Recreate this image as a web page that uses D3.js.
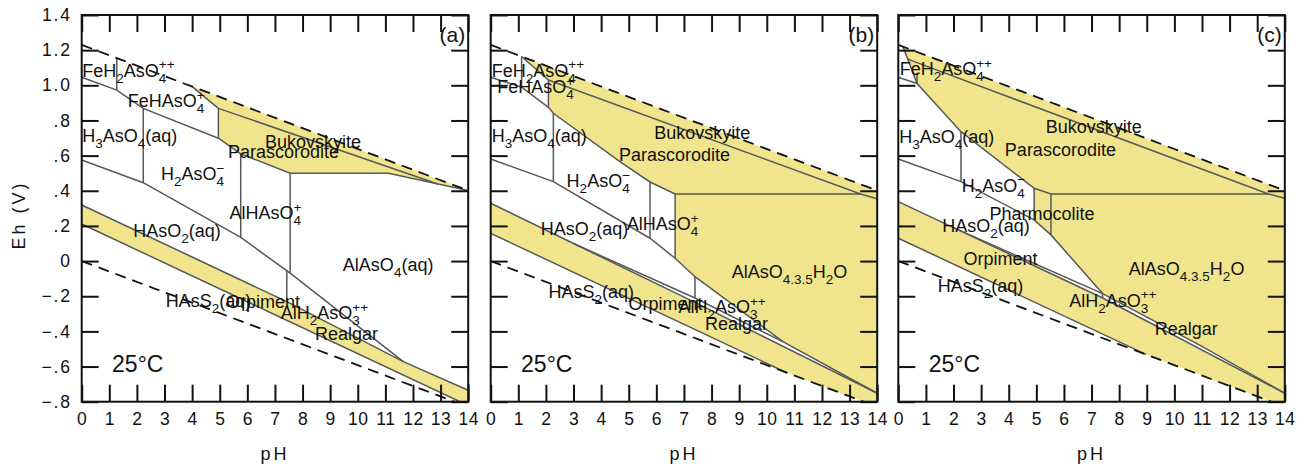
<!DOCTYPE html>
<html>
<head>
<meta charset="utf-8">
<script src="https://cdn.jsdelivr.net/npm/d3@7"></script>
<style>
  body { margin: 0; background: #fff; }
  text { font-family: "Liberation Sans", Arial, Helvetica, sans-serif; fill: #111; }
</style>
</head>
<body>
<svg id="chart" width="1303" height="464"></svg>
<script>
// ---------- data (pH, Eh in volts) ----------
const phTicks = [0, 1, 2, 3, 4, 5, 6, 7, 8, 9, 10, 11, 12, 13, 14];
const phTickLabels = ["0", "1", "2", "3", "4", "5", "6", "7", "8", "9", "10", "11", "12", "13", "14"];
const ehTicks = [-0.8, -0.6, -0.4, -0.2, 0, 0.2, 0.4, 0.6, 0.8, 1.0, 1.2, 1.4];
const ehTickLabels = ["\u2212.8", "\u2212.6", "\u2212.4", "\u2212.2", "0", ".2", ".4", ".6", ".8", "1.0", "1.2", "1.4"];
const panelTags = ["(a)", "(b)", "(c)"];

// water stability limits (dashed)
const waterUpper = [[0, 1.23], [14, 0.401]];
const waterLower = [[0, 0], [13.51, -0.8]];

// panel (a)
const fillsA = [
  [[3.99, 0.994], [14, 0.401], [11.11, 0.50], [7.55, 0.50], [5.76, 0.61], [4.95, 0.699], [4.95, 0.869]],
  [[0, 0.319], [3.92, 0.029], [7.43, -0.231], [11.65, -0.572], [14, -0.735], [14, -0.8], [13.7, -0.8], [0, 0.211]]
];
const linesA = [
  [[14, 0.401], [11.11, 0.50], [7.55, 0.50], [5.76, 0.61], [4.95, 0.699], [4.95, 0.869], [3.99, 0.994]],
  [[4.95, 0.869], [12.9, 0.439]],
  [[0, 1.046], [1.27, 0.973], [2.23, 0.869], [4.95, 0.699]],
  [[1.27, 1.155], [1.27, 0.973]],
  [[2.23, 0.869], [2.23, 0.446]],
  [[0, 0.575], [2.23, 0.446], [5.76, 0.135], [7.55, -0.069], [11.65, -0.572]],
  [[5.76, 0.61], [5.76, 0.135]],
  [[7.55, 0.50], [7.55, -0.069]],
  [[7.43, -0.055], [7.43, -0.231]],
  [[0, 0.319], [3.92, 0.029], [7.43, -0.231], [11.65, -0.572], [14, -0.735]],
  [[0, 0.211], [13.7, -0.8]]
];
const labelsA = [
  ["FeH{_2}AsO{_4}{^++}", 0.02, 1.05],
  ["FeHAsO{_4}{^+}", 1.67, 0.875],
  ["H{_3}AsO{_4}(aq)", 0.02, 0.679],
  ["Bukovskyite", 6.64, 0.645],
  ["Parascorodite", 5.30, 0.585],
  ["H{_2}AsO{_4}{^\u2212}", 2.87, 0.461],
  ["AlHAsO{_4}{^+}", 5.35, 0.238],
  ["HAsO{_2}(aq)", 1.87, 0.139],
  ["AlAsO{_4}(aq)", 9.46, -0.055],
  ["HAsS{_2}(aq)", 3.04, -0.263],
  ["Orpiment", 5.23, -0.267],
  ["AlH{_2}AsO{_3}{^++}", 7.21, -0.331],
  ["Realgar", 8.45, -0.449]
];

// panel (b)
const fillsB = [
  [[1.12, 1.164], [14, 0.401], [14, -0.752], [10.6, -0.46], [7.4, -0.089], [6.68, 0.016], [6.68, 0.382],
   [5.77, 0.45], [4.68, 0.566], [2.27, 0.841], [2.09, 0.875], [2.09, 1.03]],
  [[0, 0.329], [3.0, 0.10], [7.4, -0.235], [14, -0.752], [14, -0.8], [13.51, -0.8], [10.72, -0.635], [0, 0.158]]
];
const linesB = [
  [[1.12, 1.164], [2.09, 1.03], [2.09, 0.875], [2.27, 0.841], [4.68, 0.566], [5.77, 0.45], [6.68, 0.382], [13.4, 0.382], [14, 0.355]],
  [[2.09, 1.03], [13.4, 0.382]],
  [[0, 1.046], [1.12, 0.989], [2.09, 0.875]],
  [[1.12, 1.164], [1.12, 0.989]],
  [[2.27, 0.841], [2.27, 0.452]],
  [[0, 0.581], [2.27, 0.452], [5.77, 0.13], [6.68, 0.016], [7.4, -0.089], [10.6, -0.46]],
  [[5.77, 0.45], [5.77, 0.13]],
  [[6.68, 0.382], [6.68, 0.016]],
  [[7.4, -0.089], [7.4, -0.21]],
  [[3.0, 0.10], [7.4, -0.21], [10.6, -0.46], [14, -0.752]],
  [[0, 0.329], [3.0, 0.10], [7.4, -0.235], [14, -0.752]],
  [[0, 0.158], [10.72, -0.635]]
];
const labelsB = [
  ["FeH{_2}AsO{_4}{^++}", 0.04, 1.049],
  ["FeHAsO{_4}{^+}", 0.24, 0.955],
  ["H{_3}AsO{_4}(aq)", 0.04, 0.679],
  ["Bukovskyite", 5.92, 0.693],
  ["Parascorodite", 4.65, 0.57],
  ["H{_2}AsO{_4}{^\u2212}", 2.75, 0.423],
  ["HAsO{_2}(aq)", 1.81, 0.149],
  ["AlHAsO{_4}{^+}", 4.93, 0.177],
  ["AlAsO{_4.3.5}H{_2}O", 8.73, -0.098],
  ["HAsS{_2}(aq)", 2.09, -0.211],
  ["Orpiment", 4.99, -0.278],
  ["AlH{_2}AsO{_3}{^++}", 6.80, -0.297],
  ["Realgar", 7.76, -0.392]
];

// panel (c)
const fillsC = [
  [[0.17, 1.22], [14, 0.401], [14, -0.752], [11, -0.485], [7.4, -0.185], [5.53, 0.149], [4.92, 0.234],
   [4.92, 0.414], [2.27, 0.736], [0.68, 1.01]],
  [[0, 0.338], [2.0, 0.19], [7.4, -0.21], [14, -0.752], [14, -0.8], [13.51, -0.8], [8.97, -0.531], [0, 0.13]]
];
const linesC = [
  [[0.17, 1.22], [0.68, 1.01], [2.27, 0.736], [4.92, 0.414], [5.53, 0.382], [13.41, 0.382], [14, 0.357]],
  [[0.34, 1.149], [13.41, 0.382]],
  [[0, 1.046], [0.68, 1.01]],
  [[0.68, 1.01], [0.68, 1.07]],
  [[2.27, 0.736], [2.27, 0.452]],
  [[0, 0.581], [2.27, 0.452], [4.92, 0.234], [5.53, 0.149], [7.4, -0.185]],
  [[4.92, 0.414], [4.92, 0.234]],
  [[5.53, 0.382], [5.53, 0.149]],
  [[7.4, -0.185], [7.4, -0.21]],
  [[2.0, 0.19], [7.4, -0.185], [11, -0.485], [14, -0.752]],
  [[0, 0.338], [2.0, 0.19], [7.4, -0.21], [14, -0.752]],
  [[0, 0.13], [8.97, -0.531]]
];
const labelsC = [
  ["FeH{_2}AsO{_4}{^++}", 0.05, 1.059],
  ["H{_3}AsO{_4}(aq)", 0.03, 0.67],
  ["Bukovskyite", 5.34, 0.727],
  ["Parascorodite", 3.86, 0.60],
  ["H{_2}AsO{_4}{^\u2212}", 2.30, 0.395],
  ["Pharmocolite", 3.30, 0.234],
  ["HAsO{_2}(aq)", 1.59, 0.167],
  ["Orpiment", 2.36, -0.022],
  ["AlAsO{_4.3.5}H{_2}O", 8.35, -0.079],
  ["HAsS{_2}(aq)", 1.43, -0.174],
  ["AlH{_2}AsO{_3}{^++}", 6.19, -0.259],
  ["Realgar", 9.29, -0.42]
];

const tempLabel = ["25\u00b0C", 1.1, -0.629];

// ---------- layout ----------
const panelLeft = [81.7, 490.7, 898.3];
const panelW = 386.5;
const plotTop = 15, plotBottom = 401.7;
const tickLen = 17;
const yellow = "#f0e58c";
const grey = "#585858";

const svg = d3.select("#chart");
const panels = [
  { fills: fillsA, lines: linesA, labels: labelsA },
  { fills: fillsB, lines: linesB, labels: labelsB },
  { fills: fillsC, lines: linesC, labels: labelsC }
];

/**
 * Draw a label with {_sub} and {^sup} parts; a sup right after a sub is stacked over it.
 */
function drawLabel(g, str, x, y, size) {
  let parts = str.match(/\{[_^][^}]*\}|[^{]+/g);
  let cx = x, subW = 0, afterSub = false;
  parts.forEach(p => {
    if (p[0] === "{") {
      let kind = p[1], t = p.slice(2, -1);
      let fs = size * 0.75;
      let dy = kind === "_" ? size * 0.34 : -size * 0.40;
      let px = (kind === "^" && afterSub) ? cx - subW : cx;
      let el = g.append("text").attr("x", px).attr("y", y + dy)
        .style("font-size", fs + "px").text(t);
      let w = el.node().getComputedTextLength();
      if (kind === "_") { subW = w; afterSub = true; cx = px + w; }
      else { cx = Math.max(cx, px + w); afterSub = false; }
    } else {
      let el = g.append("text").attr("x", cx).attr("y", y)
        .style("font-size", size + "px").text(p);
      cx += el.node().getComputedTextLength();
      afterSub = false;
    }
  });
}

panels.forEach((p, i) => {
  let x = d3.scaleLinear().domain([0, 14]).range([panelLeft[i], panelLeft[i] + panelW]);
  let y = d3.scaleLinear().domain([-0.8, 1.4]).range([plotBottom, plotTop]);
  let line = d3.line().x(d => x(d[0])).y(d => y(d[1]));

  let g = svg.append("g");
  let clipId = "clip" + i;
  svg.append("clipPath").attr("id", clipId).append("rect")
    .attr("x", x(0)).attr("y", plotTop).attr("width", panelW).attr("height", plotBottom - plotTop);
  let plot = g.append("g").attr("clip-path", "url(#" + clipId + ")");

  // stability fields of the minerals
  plot.selectAll("path.fill").data(p.fills).join("path")
    .attr("class", "fill")
    .attr("d", d => line(d) + "Z")
    .style("fill", yellow)
    .style("stroke", "none");

  // field boundaries
  plot.selectAll("path.bound").data(p.lines).join("path")
    .attr("class", "bound")
    .attr("d", line)
    .style("fill", "none")
    .style("stroke", grey)
    .style("stroke-width", 1.5);

  // water limits
  plot.selectAll("path.water").data([waterUpper, waterLower]).join("path")
    .attr("class", "water")
    .attr("d", line)
    .style("fill", "none")
    .style("stroke", "#111")
    .style("stroke-width", 1.8)
    .style("stroke-dasharray", "11,7");

  // field labels
  let lab = g.append("g");
  p.labels.forEach(l => drawLabel(lab, l[0], x(l[1]), y(l[2]), 18));
  lab.append("text").attr("x", x(tempLabel[1])).attr("y", y(tempLabel[2]))
    .style("font-size", "23px").text(tempLabel[0]);
  lab.append("text").attr("x", x(14) - 3).attr("y", 42)
    .attr("text-anchor", "end").style("font-size", "21px").text(panelTags[i]);

  // axes, ticks pointing inwards on all sides
  let axB = g.append("g").attr("transform", "translate(0," + plotBottom + ")")
    .call(d3.axisBottom(x).tickValues(phTicks).tickSize(-tickLen).tickSizeOuter(0).tickPadding(11)
      .tickFormat((d, k) => phTickLabels[k]));
  let axT = g.append("g").attr("transform", "translate(0," + plotTop + ")")
    .call(d3.axisTop(x).tickValues(phTicks).tickSize(-tickLen).tickSizeOuter(0).tickFormat(""));
  let axL = g.append("g").attr("transform", "translate(" + x(0) + ",0)")
    .call(d3.axisLeft(y).tickValues(ehTicks).tickSize(-tickLen).tickSizeOuter(0).tickPadding(10)
      .tickFormat((d, k) => i === 0 ? ehTickLabels[k] : ""));
  let axR = g.append("g").attr("transform", "translate(" + x(14) + ",0)")
    .call(d3.axisRight(y).tickValues(ehTicks).tickSize(-tickLen).tickSizeOuter(0).tickFormat(""));

  [axB, axT, axL, axR].forEach(a => {
    a.attr("font-family", null).attr("font-size", null);
    a.select(".domain").remove();
    a.selectAll(".tick line").style("stroke", "#111").style("stroke-width", 2);
    a.selectAll(".tick text").style("font-size", "17.5px").style("fill", "#111");
  });
  axB.selectAll(".tick text").style("letter-spacing", "0.5px");
  axL.selectAll(".tick text").style("letter-spacing", "1.8px");

  g.append("rect")
    .attr("x", x(0)).attr("y", plotTop).attr("width", panelW).attr("height", plotBottom - plotTop)
    .style("fill", "none").style("stroke", "#111").style("stroke-width", 2);

  g.append("text")
    .attr("x", (x(0) + x(14)) / 2).attr("y", 460)
    .attr("text-anchor", "middle")
    .style("font-size", "18px").style("letter-spacing", "3px")
    .text("pH");
});

svg.append("text")
  .attr("transform", "translate(25,215) rotate(-90)")
  .attr("text-anchor", "middle")
  .style("font-size", "18px").style("letter-spacing", "3px")
  .text("Eh (V)");
</script>
</body>
</html>
